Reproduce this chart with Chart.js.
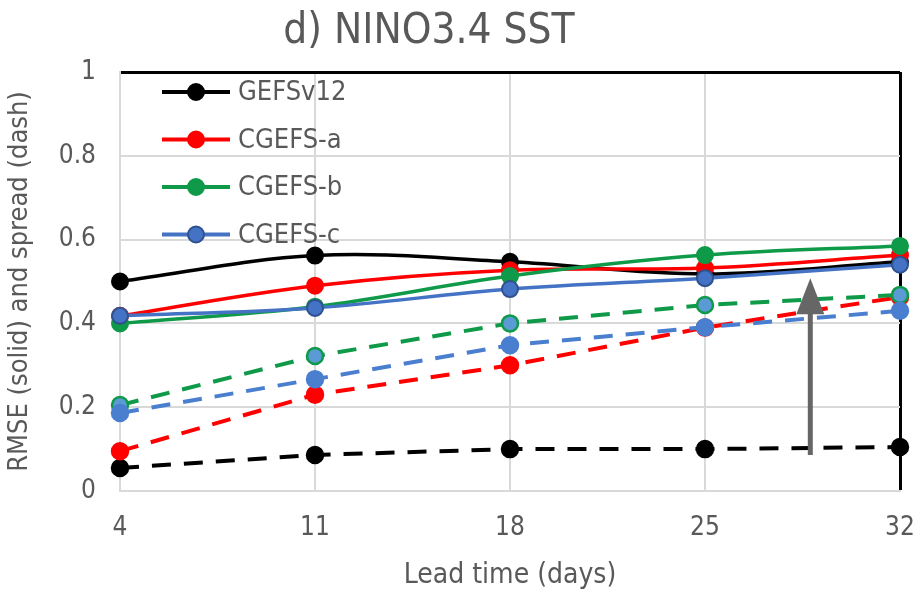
<!DOCTYPE html>
<html lang="en">
<head>
  <meta charset="UTF-8">
  <title>NINO3.4 SST</title>
  <script src="https://cdn.jsdelivr.net/npm/chart.js"></script>
  <style>
    html, body { margin: 0; padding: 0; background: #fff; }
    #wrap { width: 920px; height: 597px; }
  </style>
</head>
<body>
<div id="wrap"><canvas id="rmseChart" width="920" height="597"></canvas></div>
<script>
// lead times (days)
const leadDays = ["4", "11", "18", "25", "32"];

// RMSE (solid)
const rmseGefs  = [0.50, 0.562, 0.547, 0.518, 0.547];
const rmseCgA   = [0.418, 0.49, 0.527, 0.532, 0.563];
const rmseCgB   = [0.40, 0.44, 0.513, 0.563, 0.585];
const rmseCgC   = [0.418, 0.437, 0.482, 0.508, 0.54];

// spread (dash)
const sprGefs = [0.055, 0.086, 0.10, 0.10, 0.105];
const sprCgA  = [0.095, 0.23, 0.30, 0.39, 0.463];
const sprCgB  = [0.205, 0.322, 0.40, 0.444, 0.468];
const sprCgC  = [0.186, 0.267, 0.348, 0.391, 0.43];

const yTicks = [0, 0.2, 0.4, 0.6, 0.8, 1];

// gray arrow: index position on x, from/to on y
const arrowX = 3.54;
const arrowFrom = 0.086;
const arrowTo = 0.508;

const FONT = "'Liberation Sans Narrow', 'DejaVu Sans Condensed', 'Liberation Sans', sans-serif";
const TXT = "#595959";
const GRID = "#d9d9d9";

const legendItems = [
  { label: "GEFSv12", line: "#000000", fill: "#000000", border: "#000000" },
  { label: "CGEFS-a", line: "#ff0000", fill: "#ff0000", border: "#ff0000" },
  { label: "CGEFS-b", line: "#0e9a48", fill: "#0e9a48", border: "#0e9a48" },
  { label: "CGEFS-c", line: "#4472c4", fill: "#4472c4", border: "#2f528f" }
];

function solid(data, c, order) {
  return {
    data: data, borderColor: c.line, backgroundColor: c.fill,
    pointBackgroundColor: c.fill, pointBorderColor: c.border,
    borderWidth: 3.5, pointRadius: 8, pointBorderWidth: 2,
    tension: 0.35, order: order
  };
}
function dashed(data, line, fill, border, order) {
  return {
    data: data, borderColor: line, backgroundColor: fill,
    pointBackgroundColor: fill, pointBorderColor: border,
    borderWidth: 4, borderDash: [19, 13], pointRadius: 8, pointBorderWidth: 2.5,
    tension: 0, order: order
  };
}

const titlePlugin = {
  id: "titleText",
  afterDraw(chart) {
    const ctx = chart.ctx;
    ctx.save();
    ctx.fillStyle = TXT;
    ctx.font = "42px " + FONT;
    ctx.textAlign = "center";
    ctx.textBaseline = "middle";
    ctx.fillText("d) NINO3.4 SST", 429, 32);
    ctx.restore();
  }
};

const arrowPlugin = {
  id: "grayArrow",
  afterDatasetsDraw(chart) {
    const { ctx, scales } = chart;
    const x = scales.x.getPixelForValue(arrowX);
    const y0 = scales.y.getPixelForValue(arrowFrom);
    const y1 = scales.y.getPixelForValue(arrowTo);
    ctx.save();
    ctx.strokeStyle = "#666666";
    ctx.fillStyle = "#666666";
    ctx.lineWidth = 5;
    ctx.beginPath();
    ctx.moveTo(x, y0);
    ctx.lineTo(x, y1 + 30);
    ctx.stroke();
    ctx.beginPath();
    ctx.moveTo(x, y1);
    ctx.lineTo(x - 14, y1 + 36);
    ctx.lineTo(x + 14, y1 + 36);
    ctx.closePath();
    ctx.fill();
    ctx.restore();
  }
};

const legendPlugin = {
  id: "insideLegend",
  afterDraw(chart) {
    const ctx = chart.ctx;
    const a = chart.chartArea;
    ctx.save();
    ctx.font = "27px " + FONT;
    ctx.textBaseline = "middle";
    legendItems.forEach((it, i) => {
      const y = a.top + 20 + i * 47.5;
      const x0 = a.left + 42;
      ctx.strokeStyle = it.line;
      ctx.lineWidth = 4;
      ctx.beginPath();
      ctx.moveTo(x0, y);
      ctx.lineTo(x0 + 68, y);
      ctx.stroke();
      ctx.beginPath();
      ctx.arc(x0 + 34, y, 8, 0, Math.PI * 2);
      ctx.fillStyle = it.fill;
      ctx.fill();
      ctx.lineWidth = 2;
      ctx.strokeStyle = it.border;
      ctx.stroke();
      ctx.fillStyle = TXT;
      ctx.fillText(it.label, x0 + 76, y + 1);
    });
    ctx.restore();
  }
};

new Chart(document.getElementById("rmseChart"), {
  type: "line",
  data: {
    labels: leadDays,
    datasets: [
      dashed(sprGefs, "#000000", "#000000", "#000000", 13),
      dashed(sprCgA, "#ff0000", "#ff0000", "#ff0000", 12),
      dashed(sprCgB, "#0e9a48", "#5b9bd5", "#0e9a48", 11),
      dashed(sprCgC, "#4a7fd0", "#4a7fd0", "#4a7fd0", 10),
      solid(rmseGefs, legendItems[0], 5),
      solid(rmseCgA, legendItems[1], 4),
      solid(rmseCgB, legendItems[2], 3),
      solid(rmseCgC, legendItems[3], 2)
    ]
  },
  options: {
    responsive: false,
    animation: false,
    layout: { padding: { top: 72, right: 20, left: 0, bottom: 0 } },
    plugins: {
      legend: { display: false },
      tooltip: { enabled: false }
    },
    scales: {
      x: {
        offset: false,
        afterFit(s) { s.height = 106; s.paddingLeft = 0; s.paddingRight = 0; },
        grid: {
          color: c => (c.index === leadDays.length - 1 ? "#000000" : GRID),
          lineWidth: c => (c.index === leadDays.length - 1 ? 3 : 2),
          drawTicks: false
        },
        border: { color: GRID, width: 2 },
        ticks: { color: TXT, font: { family: FONT, size: 26 }, padding: 22, maxRotation: 0 },
        title: {
          display: true, text: "Lead time (days)", color: TXT,
          font: { family: FONT, size: 28 }, padding: { top: 0, bottom: 4 }
        }
      },
      y: {
        min: 0, max: 1,
        afterFit(s) { s.width = 120; s.paddingTop = 0; s.paddingBottom = 0; },
        afterBuildTicks(s) { s.ticks = yTicks.map(v => ({ value: v })); },
        grid: {
          color: c => (c.tick && c.tick.value === 1 ? "#000000" : GRID),
          lineWidth: c => (c.tick && c.tick.value === 1 ? 3 : 2),
          drawTicks: false
        },
        border: { color: GRID, width: 2 },
        ticks: {
          color: TXT, font: { family: FONT, size: 26 }, padding: 24,
          callback: v => String(Math.round(v * 10) / 10)
        },
        title: {
          display: true, text: "RMSE (solid) and spread (dash)", color: TXT,
          font: { family: FONT, size: 27 }, padding: { top: 4, bottom: 0 }
        }
      }
    }
  },
  plugins: [titlePlugin, arrowPlugin, legendPlugin]
});
</script>
</body>
</html>
